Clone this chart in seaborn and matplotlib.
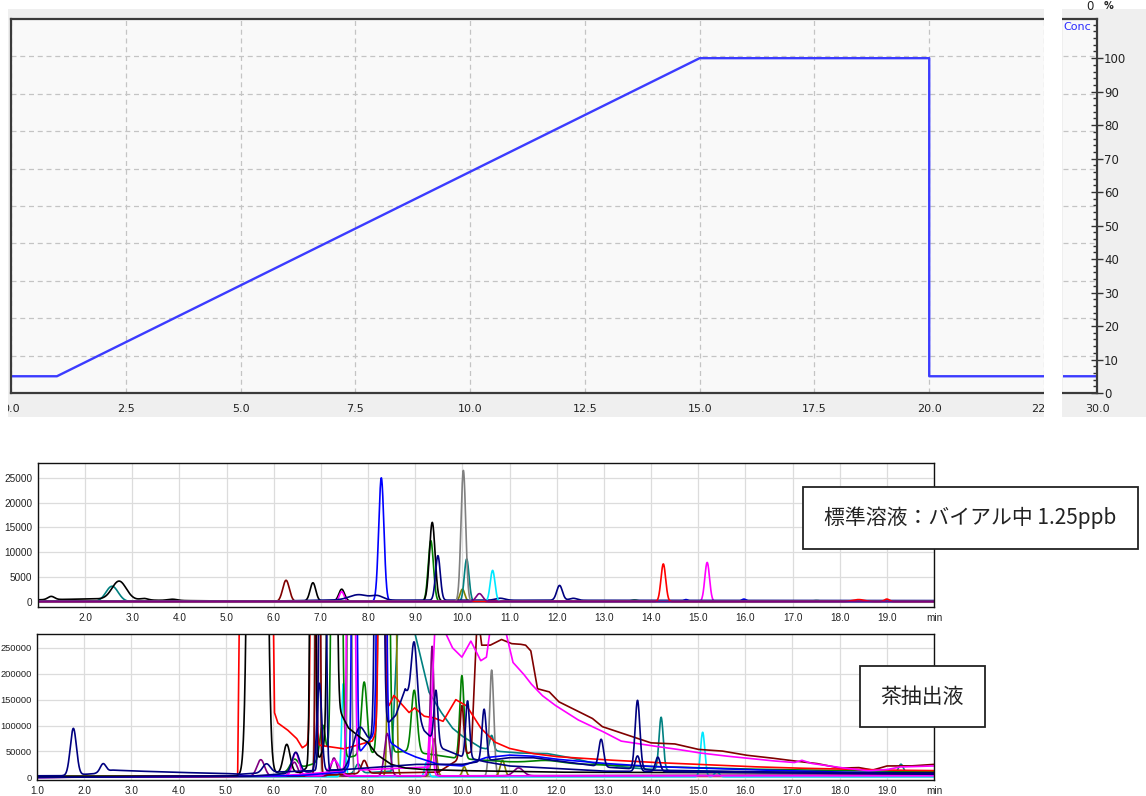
import numpy as np
import pandas as pd
import matplotlib
matplotlib.use("Agg")
import matplotlib.pyplot as plt
from matplotlib.patches import Rectangle
from matplotlib.ticker import MultipleLocator, NullFormatter
import seaborn as sns

W, H = 1146, 796

# ---------------- gradient program (B conc, %) ----------------
GRAD_TIME = [0.0, 1.0, 15.0, 20.0, 20.0, 30.0]
GRAD_CONC = [5, 5, 100, 100, 5, 5]
GRAD_XTICKS = [0.0, 2.5, 5.0, 7.5, 10.0, 12.5, 15.0, 17.5, 20.0, 22.5]
GRAD_XLABELS = ["0.0", "2.5", "5.0", "7.5", "10.0", "12.5", "15.0", "17.5", "20.0", "22.5"]
CONC_TICKS = [0, 10, 20, 30, 40, 50, 60, 70, 80, 90, 100]

# ---------------- chromatograms: peaks (rt min, height, width) and baselines (t, signal) ----------------
CHROM_XTICKS = [1.0, 2.0, 3.0, 4.0, 5.0, 6.0, 7.0, 8.0, 9.0, 10.0, 11.0, 12.0, 13.0, 14.0, 15.0,
                16.0, 17.0, 18.0, 19.0, 20.0]
STD_XLABELS = [""] + [f"{v:.1f}" for v in CHROM_XTICKS[1:-1]] + ["min"]
TEA_XLABELS = [f"{v:.1f}" for v in CHROM_XTICKS[:-1]] + ["min"]
STD_YTICKS = [0, 5000, 10000, 15000, 20000, 25000]
TEA_YTICKS = [0, 50000, 100000, 150000, 200000, 250000]

COLORS = {
    "black": "#000000", "blue": "#0000ff", "navy": "#000080", "green": "#008000",
    "gray": "#808080", "teal": "#008080", "cyan": "#00e8ff", "maroon": "#800000",
    "red": "#ff0000", "magenta": "#ff00ff", "olive": "#808000", "purple": "#800080",
}

# standard solution (1.25 ppb in vial)
STD_OLIVE = [(10.0, 2500, 0.05), (1.8, 250, 0.3)]
STD_TEAL = [(2.57, 3100, 0.13), (10.09, 8600, 0.05)]
STD_GREEN = [(9.33, 12300, 0.055), (13.65, 300, 0.08), (17.5, 200, 0.1)]
STD_MAROON = [(6.26, 4300, 0.07)]
STD_BLACK = [(1.28, 650, 0.07), (2.72, 3700, 0.15), (3.25, 300, 0.08), (3.85, 250, 0.1),
             (6.83, 3700, 0.06), (7.44, 2400, 0.06), (9.36, 15900, 0.06)]
STD_BLACK_BASE = [(1.0, 350), (2.2, 550), (3.6, 250), (5.0, 100), (20.0, 100)]
STD_MAGENTA = [(7.44, 2000, 0.05), (15.19, 7900, 0.05)]
STD_BLUE = [(8.28, 25000, 0.055), (14.74, 400, 0.05), (15.97, 500, 0.05)]
STD_NAVY = [(7.8, 1100, 0.2), (8.2, 800, 0.12), (9.48, 9000, 0.05), (12.06, 3000, 0.06),
            (12.35, 400, 0.08), (10.8, 400, 0.1)]
STD_NAVY_BASE = [(1.0, 100), (6.0, 100), (7.0, 300), (20.0, 200)]
STD_GRAY = [(10.02, 26500, 0.05)]
STD_CYAN = [(10.64, 6300, 0.05)]
STD_RED = [(14.26, 7600, 0.05), (18.4, 400, 0.12), (19.0, 500, 0.05)]
STD_PURPLE = [(10.36, 1600, 0.07)]

# tea extract
TEA_TEAL = [(7.8, 18000, 0.06), (10.63, 28000, 0.04), (14.22, 102000, 0.045), (19.3, 17000, 0.05)]
TEA_TEAL_BASE = [(1.0, 0), (7.0, 3000), (8.5, 12000), (8.8, 600000), (9.0, 280000), (9.3, 165000),
                 (9.55, 127000), (9.8, 95000), (10.0, 80000), (10.4, 57000), (10.8, 50000),
                 (11.2, 47000), (11.8, 46000), (12.3, 38000), (12.8, 27000), (13.5, 19000),
                 (14.5, 12000), (16.0, 10000), (20.0, 8000)]
TEA_GRAY = [(6.94, 2.0e6, 0.03), (7.62, 1.0e6, 0.03), (10.63, 205000, 0.045)]
TEA_GRAY_BASE = [(1.0, 2000), (20.0, 2000)]
TEA_OLIVE = [(8.52, 3.0e6, 0.045), (9.41, 72000, 0.05), (10.05, 18000, 0.04), (10.86, 30000, 0.05),
             (19.3, 10000, 0.05)]
TEA_OLIVE_BASE = [(1.0, 2000), (20.0, 3000)]
TEA_CYAN = [(7.49, 180000, 0.035), (9.25, 28000, 0.04), (15.1, 86000, 0.045), (15.4, 10000, 0.05)]
TEA_CYAN_BASE = [(1.0, 1000), (20.0, 1000)]
TEA_GREEN = [(6.45, 20000, 0.08), (7.05, 70000, 0.06), (7.35, 3.0e6, 0.06), (7.93, 140000, 0.06),
             (8.35, 3.0e6, 0.06), (8.99, 120000, 0.06), (10.0, 160000, 0.045), (11.8, 5000, 0.3)]
TEA_GREEN_BASE = [(1.0, 1000), (6.0, 3000), (7.0, 30000), (8.0, 45000), (8.8, 50000), (9.3, 45000),
                  (9.8, 38000), (10.3, 34000), (11.0, 30000), (12.0, 27000), (14.0, 21000),
                  (16.0, 16000), (18.0, 13000), (20.0, 11000)]
TEA_PURPLE = [(5.74, 32000, 0.08), (6.45, 27000, 0.07), (7.29, 35000, 0.06), (8.42, 82000, 0.06),
              (9.37, 250000, 0.04), (11.2, 15000, 0.1)]
TEA_PURPLE_BASE = [(1.0, 0), (5.3, 2000), (20.0, 5000)]
TEA_MAROON = [(6.95, 2.0e6, 0.03), (7.93, 25000, 0.06), (10.0, 100000, 0.04)]
TEA_MAROON_BASE = [(1.0, 0), (6.5, 2000), (8.0, 8000), (9.5, 10000), (10.2, 50000), (10.33, 320000),
                   (10.42, 255000), (10.6, 255000), (10.84, 266000), (11.05, 258000), (11.23, 257000),
                   (11.35, 255000), (11.46, 244000), (11.6, 171000), (11.85, 165000), (12.05, 146000),
                   (12.4, 130000), (12.76, 114000), (12.97, 98000), (13.5, 82000), (13.8, 73000),
                   (14.0, 66600), (14.5, 64700), (15.0, 54000), (15.5, 51000), (16.0, 43000),
                   (16.5, 38000), (17.0, 32000), (17.5, 27000), (18.0, 17800), (18.4, 19000),
                   (18.7, 14000), (19.0, 22000), (19.5, 22000), (20.0, 25000)]
TEA_RED = [(6.85, 1.5e6, 0.035), (8.3, 1.5e6, 0.04)]
TEA_RED_BASE = [(1.0, 1000), (5.25, 2000), (5.32, 600000), (5.97, 600000), (6.03, 125000),
                (6.1, 105000), (6.3, 92000), (6.5, 75000), (6.62, 57000), (6.75, 65000), (7.5, 55000),
                (8.1, 70000), (8.56, 158000), (8.88, 125000), (9.0, 134000), (9.2, 118000),
                (9.4, 115000), (9.6, 108000), (9.87, 150000), (10.1, 138000), (10.4, 95000),
                (10.7, 68000), (11.0, 56000), (11.5, 46000), (12.0, 40000), (13.0, 34000),
                (14.0, 29000), (15.0, 25000), (16.0, 21000), (17.0, 18000), (18.0, 16000),
                (19.0, 14000), (20.0, 13000)]
TEA_MAGENTA = [(7.65, 3.0e6, 0.045)]
TEA_MAGENTA_BASE = [(1.0, 0), (6.0, 2000), (8.0, 15000), (9.3, 20000), (9.48, 400000), (9.62, 285000),
                    (9.8, 250000), (10.0, 232000), (10.19, 263000), (10.4, 225000), (10.52, 232000),
                    (10.62, 300000), (10.88, 300000), (11.08, 222000), (11.3, 200000),
                    (11.46, 181000), (11.7, 158000), (11.96, 140000), (12.2, 126000),
                    (12.46, 111000), (12.95, 90000), (13.37, 70000), (13.94, 62000), (14.5, 55000),
                    (15.0, 47600), (15.5, 42000), (16.05, 36800), (16.5, 32500), (17.04, 28500),
                    (17.2, 33000), (17.4, 27000), (18.0, 19000), (18.6, 12700), (19.0, 15000),
                    (19.27, 20000), (20.0, 22000)]
TEA_MAGENTA2 = [(6.48, 45000, 0.07), (7.3, 30000, 0.1), (9.34, 115000, 0.04)]
TEA_MAGENTA2_BASE = [(1.0, 0), (6.0, 3000), (20.0, 3000)]
TEA_BLUE = [(7.72, 1.5e6, 0.035), (8.3, 3.0e6, 0.05)]
TEA_BLUE_BASE = [(1.0, 0), (6.5, 3000), (7.5, 10000), (8.2, 90000), (8.5, 66000), (8.8, 48000),
                 (9.0, 40000), (9.5, 25000), (10.0, 22000), (10.5, 38000), (11.0, 43000),
                 (11.5, 41000), (12.0, 35000), (13.0, 27000), (14.0, 21000), (16.0, 15000),
                 (18.0, 10000), (20.0, 8000)]
TEA_BLACK = [(5.67, 6.0e6, 0.10), (6.29, 55000, 0.07), (6.84, 2.0e6, 0.035), (7.25, 4.0e6, 0.05)]
TEA_BLACK_BASE = [(1.0, 2000), (5.0, 2000), (6.1, 8000), (6.6, 10000), (7.0, 40000), (7.4, 130000),
                  (7.6, 95000), (7.86, 76000), (8.0, 68000), (8.2, 44000), (8.5, 25000),
                  (8.8, 18000), (9.2, 15000), (10.0, 13000), (12.0, 10000), (20.0, 8000)]
TEA_NAVY = [(1.77, 90000, 0.065), (2.40, 16000, 0.06), (5.86, 17000, 0.08), (7.05, 3.0e6, 0.04),
            (10.47, 100000, 0.045), (12.95, 53000, 0.05), (13.72, 133000, 0.05)]
TEA_NAVY_BASE = [(1.0, 3000), (1.5, 3000), (2.2, 7000), (2.6, 14000), (3.0, 12500), (4.0, 9500),
                 (5.0, 7500), (5.3, 6000), (6.0, 10000), (7.5, 15000), (9.0, 25000), (10.0, 25000),
                 (10.5, 32000), (11.0, 38000), (11.5, 38000), (12.0, 32000), (13.0, 20000),
                 (14.0, 14000), (16.0, 11000), (18.0, 9000), (20.0, 8000)]
TEA_NAVY2 = [(6.48, 40000, 0.08), (6.98, 170000, 0.05), (7.82, 50000, 0.12), (8.25, 3.0e6, 0.05),
             (8.99, 129000, 0.06), (9.45, 100000, 0.04), (10.12, 110000, 0.04), (13.72, 30000, 0.05),
             (14.15, 28000, 0.05)]
TEA_NAVY2_BASE = [(1.0, 0), (5.5, 2000), (7.5, 15000), (8.6, 120000), (8.8, 170000), (9.2, 90000),
                  (9.6, 55000), (10.0, 40000), (10.5, 30000), (11.0, 22000), (13.0, 12000),
                  (20.0, 6000)]

STD_TRACES = [
    ("olive", STD_OLIVE, None), ("teal", STD_TEAL, None), ("green", STD_GREEN, None),
    ("maroon", STD_MAROON, None), ("black", STD_BLACK, STD_BLACK_BASE),
    ("magenta", STD_MAGENTA, None), ("blue", STD_BLUE, None), ("navy", STD_NAVY, STD_NAVY_BASE),
    ("gray", STD_GRAY, None), ("cyan", STD_CYAN, None), ("red", STD_RED, None),
    ("purple", STD_PURPLE, None),
]
TEA_TRACES = [
    ("teal", TEA_TEAL, TEA_TEAL_BASE), ("gray", TEA_GRAY, TEA_GRAY_BASE),
    ("olive", TEA_OLIVE, TEA_OLIVE_BASE), ("cyan", TEA_CYAN, TEA_CYAN_BASE),
    ("green", TEA_GREEN, TEA_GREEN_BASE), ("purple", TEA_PURPLE, TEA_PURPLE_BASE),
    ("maroon", TEA_MAROON, TEA_MAROON_BASE), ("red", TEA_RED, TEA_RED_BASE),
    ("magenta", TEA_MAGENTA, TEA_MAGENTA_BASE), ("magenta", TEA_MAGENTA2, TEA_MAGENTA2_BASE),
    ("blue", TEA_BLUE, TEA_BLUE_BASE), ("black", TEA_BLACK, TEA_BLACK_BASE),
    ("navy", TEA_NAVY, TEA_NAVY_BASE), ("navy", TEA_NAVY2, TEA_NAVY2_BASE),
]

STD_LABEL = "標準溶液：バイアル中 1.25ppb"
TEA_LABEL = "茶抽出液"

# ---------------- helpers ----------------
sns.set_style("white")
plt.rcParams["font.family"] = ["DejaVu Sans", "Noto Sans CJK JP"]

T = np.arange(1.0, 20.0005, 0.003)


def trace_signal(peaks, base):
    if base:
        bt, bv = zip(*base)
        y = np.interp(T, bt, bv)
    else:
        y = np.zeros_like(T)
    for rt, h, w in peaks:
        y = y + h * np.exp(-0.5 * ((T - rt) / w) ** 2)
    return y


def add_ax(x0, y0, x1, y1, **kw):
    return fig.add_axes([x0 / W, 1 - y1 / H, (x1 - x0) / W, (y1 - y0) / H], **kw)


def fig_rect(x0, y0, x1, y1, **kw):
    fig.patches.append(Rectangle((x0 / W, 1 - y1 / H), (x1 - x0) / W, (y1 - y0) / H,
                                 transform=fig.transFigure, figure=fig, **kw))


fig = plt.figure(figsize=(W / 100, H / 100), dpi=100)
fig.patch.set_facecolor("white")

# ---------------- gradient panel ----------------
fig_rect(8, 9, 1044, 417, facecolor="#efefef", edgecolor="none", zorder=-5)
fig_rect(1062, 9, 1146, 417, facecolor="#efefef", edgecolor="none", zorder=-5)

YTOP = 111.7
grid_y = np.linspace(0, YTOP, 11)[1:-1]
grad_df = pd.DataFrame({"time": GRAD_TIME, "conc": GRAD_CONC})

ax_g = add_ax(11, 19, 1044, 393)
ax_g.set_facecolor("#f9f9f9")
sns.lineplot(data=grad_df, x="time", y="conc", ax=ax_g, color="#3b3bff", lw=1.7,
             estimator=None, sort=False, legend=False)
ax_g.set_xlim(0, 22.5)
ax_g.set_ylim(0, YTOP)
ax_g.hlines(grid_y, 0, 22.5, colors="#c4c4c4", linestyles=(0, (4, 3)), lw=0.9, zorder=0)
ax_g.set_xticks(GRAD_XTICKS, GRAD_XLABELS)
ax_g.xaxis.set_minor_locator(MultipleLocator(0.5))
ax_g.grid(axis="x", color="#c4c4c4", linestyle=(0, (4, 3)), lw=0.9)
ax_g.set_axisbelow(True)
ax_g.set_yticks(np.linspace(0, YTOP, 51))
ax_g.yaxis.set_major_formatter(NullFormatter())
ax_g.tick_params(axis="y", which="major", direction="inout", length=3, width=1, color="#333333")
ax_g.tick_params(axis="x", which="major", direction="out", length=8, width=1, pad=0,
                 labelsize=8, labelcolor="#222222", color="#333333")
ax_g.tick_params(axis="x", which="minor", direction="out", length=3, width=1, color="#333333")
ax_g.set_xlabel("")
ax_g.set_ylabel("")
for side in ("left", "bottom", "top"):
    ax_g.spines[side].set_color("#3a3a3a")
    ax_g.spines[side].set_linewidth(1.6)
ax_g.spines["right"].set_visible(False)

# narrow end segment with the concentration axis
ax_c = add_ax(1063, 19, 1097, 393)
ax_c.set_facecolor("#f9f9f9")
sns.lineplot(data=grad_df, x="time", y="conc", ax=ax_c, color="#3b3bff", lw=1.7,
             estimator=None, sort=False, legend=False)
ax_c.set_xlim(29.27, 30.0)
ax_c.set_ylim(0, YTOP)
ax_c.hlines(grid_y, 29.27, 30.0, colors="#c4c4c4", linestyles=(0, (4, 3)), lw=0.9, zorder=0)
ax_c.set_xticks([30.0], ["30.0"])
ax_c.xaxis.set_minor_locator(MultipleLocator(0.5))
ax_c.yaxis.tick_right()
ax_c.set_yticks(CONC_TICKS, [str(v) for v in CONC_TICKS])
ax_c.yaxis.set_minor_locator(MultipleLocator(2))
ax_c.tick_params(axis="y", which="major", direction="inout", length=8, width=1, pad=1,
                 labelsize=8.5, labelcolor="#222222", color="#333333")
ax_c.tick_params(axis="y", which="minor", direction="in", length=3, width=1, color="#333333")
ax_c.tick_params(axis="x", which="major", direction="out", length=8, width=1, pad=0,
                 labelsize=8, labelcolor="#222222", color="#333333")
ax_c.tick_params(axis="x", which="minor", direction="out", length=3, width=1, color="#333333")
ax_c.set_xlabel("")
ax_c.set_ylabel("")
for side in ("right", "bottom", "top"):
    ax_c.spines[side].set_color("#3a3a3a")
    ax_c.spines[side].set_linewidth(1.6)
ax_c.spines["left"].set_visible(False)
fig.text(1063 / W, 1 - 27 / H, "Conc", color="#2b2bff", fontsize=8, va="center", ha="left",
         zorder=20)
fig.text(1090 / W, 1 - 6 / H, "0", color="#222222", fontsize=8.5, va="center", ha="center",
         zorder=20)
fig.text(1108 / W, 1 - 6 / H, "%", color="#222222", fontsize=7, fontweight="bold",
         va="center", ha="center", zorder=20)

# white margins trimming the gradient panel
fig_rect(0, 0, 8, 430, facecolor="white", edgecolor="none", zorder=15)
fig_rect(1044, 0, 1062, 430, facecolor="white", edgecolor="none", zorder=15)


# ---------------- chromatogram panels ----------------
def chrom_panel(box, traces, yticks, ylim, minor_y, xlabels, ysize):
    ax = add_ax(*box)
    ax.set_facecolor("white")
    for name, peaks, base in traces:
        df = pd.DataFrame({"time": T, "signal": trace_signal(peaks, base)})
        sns.lineplot(data=df, x="time", y="signal", ax=ax, color=COLORS[name], lw=1.2,
                     estimator=None, sort=False, legend=False)
    ax.set_xlim(1.0, 20.0)
    ax.set_ylim(*ylim)
    ax.set_xticks(CHROM_XTICKS, xlabels)
    ax.xaxis.set_minor_locator(MultipleLocator(0.2))
    ax.set_yticks(yticks, [str(v) for v in yticks])
    ax.yaxis.set_minor_locator(MultipleLocator(minor_y))
    ax.grid(which="major", color="#dcdcdc", lw=0.9)
    ax.set_axisbelow(True)
    ax.tick_params(axis="x", which="major", direction="out", length=3.5, width=0.9,
                   color="#333333", labelsize=7.2, labelcolor="#222222", pad=1)
    ax.tick_params(axis="y", which="major", direction="out", length=3, width=0.9,
                   color="#333333", labelsize=ysize, labelcolor="#222222", pad=1)
    ax.tick_params(which="minor", direction="out", length=2.5, width=0.8, color="#333333")
    for lbl in ax.get_xticklabels() + ax.get_yticklabels():
        lbl.set_fontfamily("Liberation Sans")
    ax.set_xlabel("")
    ax.set_ylabel("")
    for s in ax.spines.values():
        s.set_color("#111111")
        s.set_linewidth(1.0)
    return ax


chrom_panel((38, 463, 934, 607), STD_TRACES, STD_YTICKS, (-1100, 28000), 1000, STD_XLABELS, 7.2)
chrom_panel((37, 634, 934, 780), TEA_TRACES, TEA_YTICKS, (-5100, 276600), 10000, TEA_XLABELS, 6.7)

# sample annotation boxes
fig_rect(803, 487, 1138, 549, facecolor="white", edgecolor="#222222", lw=1.3, zorder=20)
fig.text(970.5 / W, 1 - 518 / H, STD_LABEL, fontsize=15, family=["Noto Sans CJK JP"],
         color="#222222", ha="center", va="center", zorder=21)
fig_rect(860, 666, 985, 727, facecolor="white", edgecolor="#222222", lw=1.3, zorder=20)
fig.text(922.5 / W, 1 - 696.5 / H, TEA_LABEL, fontsize=15, family=["Noto Sans CJK JP"],
         color="#222222", ha="center", va="center", zorder=21)

fig.savefig("out.png", dpi=100)
